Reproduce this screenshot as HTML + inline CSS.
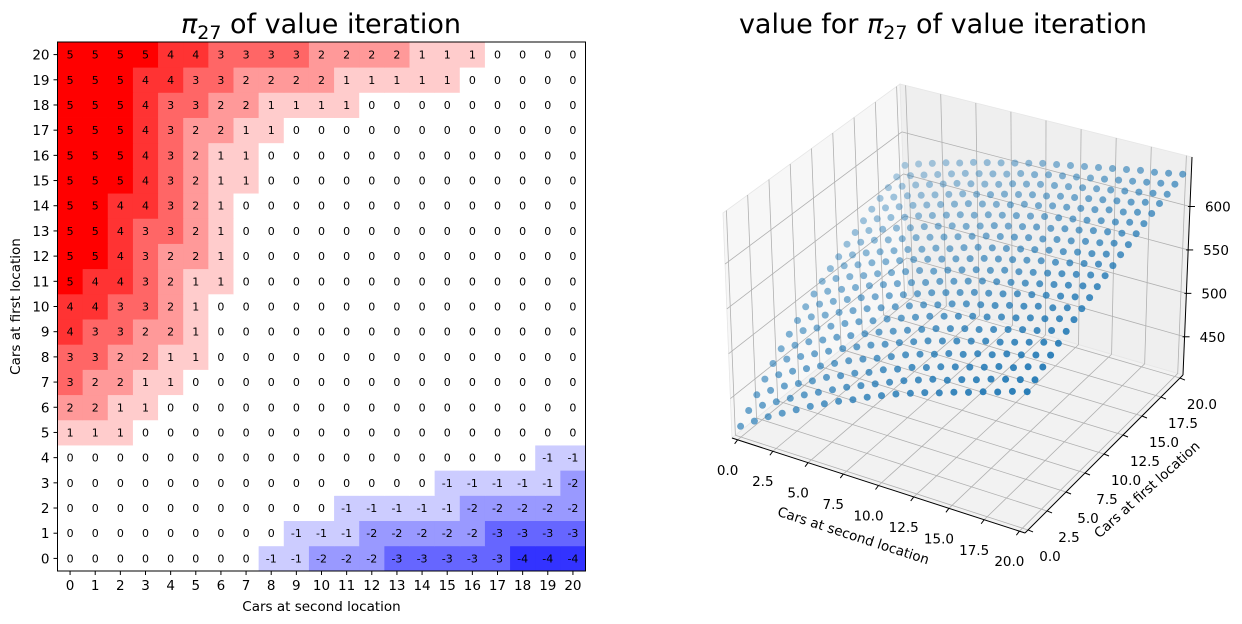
<!DOCTYPE html>
<html><head><meta charset="utf-8"><style>
body{margin:0;background:#fff;}
svg{display:block;font-family:"DejaVu Sans","Liberation Sans",sans-serif;}
</style></head><body>
<svg id="fig" width="1242" height="624" viewBox="0 0 1242 624" xmlns="http://www.w3.org/2000/svg">
<rect width="1242" height="624" fill="#fff"/>
<g id="heat"></g>
<g id="surf"></g>
</svg>
<script>
// Policy heatmap data: rows indexed by cars at first location (0..20), columns by cars at second location (0..20)
const policyRows = [
[0,0,0,0,0,0,0,0,-1,-1,-2,-2,-2,-3,-3,-3,-3,-3,-4,-4,-4],
[0,0,0,0,0,0,0,0,0,-1,-1,-1,-2,-2,-2,-2,-2,-3,-3,-3,-3],
[0,0,0,0,0,0,0,0,0,0,0,-1,-1,-1,-1,-1,-2,-2,-2,-2,-2],
[0,0,0,0,0,0,0,0,0,0,0,0,0,0,0,-1,-1,-1,-1,-1,-2],
[0,0,0,0,0,0,0,0,0,0,0,0,0,0,0,0,0,0,0,-1,-1],
[1,1,1,0,0,0,0,0,0,0,0,0,0,0,0,0,0,0,0,0,0],
[2,2,1,1,0,0,0,0,0,0,0,0,0,0,0,0,0,0,0,0,0],
[3,2,2,1,1,0,0,0,0,0,0,0,0,0,0,0,0,0,0,0,0],
[3,3,2,2,1,1,0,0,0,0,0,0,0,0,0,0,0,0,0,0,0],
[4,3,3,2,2,1,0,0,0,0,0,0,0,0,0,0,0,0,0,0,0],
[4,4,3,3,2,1,0,0,0,0,0,0,0,0,0,0,0,0,0,0,0],
[5,4,4,3,2,1,1,0,0,0,0,0,0,0,0,0,0,0,0,0,0],
[5,5,4,3,2,2,1,0,0,0,0,0,0,0,0,0,0,0,0,0,0],
[5,5,4,3,3,2,1,0,0,0,0,0,0,0,0,0,0,0,0,0,0],
[5,5,4,4,3,2,1,0,0,0,0,0,0,0,0,0,0,0,0,0,0],
[5,5,5,4,3,2,1,1,0,0,0,0,0,0,0,0,0,0,0,0,0],
[5,5,5,4,3,2,1,1,0,0,0,0,0,0,0,0,0,0,0,0,0],
[5,5,5,4,3,2,2,1,1,0,0,0,0,0,0,0,0,0,0,0,0],
[5,5,5,4,3,3,2,2,1,1,1,1,0,0,0,0,0,0,0,0,0],
[5,5,5,4,4,3,3,2,2,2,2,1,1,1,1,1,0,0,0,0,0],
[5,5,5,5,4,4,3,3,3,3,2,2,2,2,1,1,1,0,0,0,0]
];
const heatXTicks = [0,1,2,3,4,5,6,7,8,9,10,11,12,13,14,15,16,17,18,19,20];
const heatYTicks = [0,1,2,3,4,5,6,7,8,9,10,11,12,13,14,15,16,17,18,19,20];

// Value function data: rows = first location 0..20, cols = second location 0..20
const valueRows = [
[418,429,439,448,457,466,474,482,489,497,504,511,517,523,528,534,539,545,550,556,561],
[428,439,448,457,466,474,482,490,497,504,511,518,524,530,534,540,545,551,556,561,566],
[438,448,458,466,474,483,490,498,504,512,518,525,530,536,541,546,551,557,561,567,572],
[448,458,467,475,483,491,499,506,512,519,526,532,537,543,547,553,557,563,567,572,577],
[458,468,476,484,492,500,507,514,520,527,533,539,544,549,554,559,563,568,573,578,582],
[467,476,485,492,500,507,514,521,527,533,539,545,550,555,559,564,569,574,578,583,587],
[476,485,493,500,508,515,521,528,534,540,546,551,556,561,565,570,574,579,583,588,592],
[484,493,500,508,515,522,528,534,540,546,551,557,562,566,570,575,579,584,587,592,596],
[492,500,508,515,522,528,534,540,546,552,557,562,567,571,575,580,584,588,592,596,600],
[499,507,514,521,528,534,540,546,551,557,562,567,572,576,580,584,588,592,596,600,604],
[506,514,521,527,534,540,546,552,556,562,567,572,576,581,584,588,592,596,600,604,608],
[513,521,527,534,540,546,552,557,562,567,572,577,581,585,589,593,596,600,604,608,611],
[519,526,533,539,545,551,556,562,566,572,577,581,585,589,593,597,600,604,607,611,615],
[526,533,540,545,551,557,562,567,572,577,582,586,590,594,597,601,604,608,611,615,618],
[532,539,545,551,556,562,567,572,576,581,586,590,594,598,601,605,608,612,615,618,622],
[538,545,551,556,562,567,572,577,581,586,590,594,598,602,605,608,611,615,618,622,625],
[544,550,556,562,567,572,577,582,586,590,594,599,602,606,609,612,615,619,621,625,628],
[549,555,561,566,571,576,581,585,589,594,598,602,605,609,612,615,618,621,624,628,631],
[554,560,566,571,576,581,585,589,593,598,602,606,609,612,615,618,621,624,627,630,633],
[559,565,570,575,580,585,589,593,597,602,605,609,612,615,618,621,624,627,630,633,636],
[565,571,576,581,585,590,594,598,602,606,610,613,616,619,622,625,628,631,633,636,639]
];
const xyTicks = [0,2.5,5,7.5,10,12.5,15,17.5,20];
const xyTickLabels = ["0.0","2.5","5.0","7.5","10.0","12.5","15.0","17.5","20.0"];
const zTicks = [450,500,550,600];
const zTickLabels = ["450","500","550","600"];

const NS = "http://www.w3.org/2000/svg";
function mk(tag, attrs, parent, text){
  const e = document.createElementNS(NS, tag);
  for (const k in attrs) e.setAttribute(k, attrs[k]);
  if (text !== undefined) e.textContent = text;
  parent.appendChild(e);
  return e;
}
const FS = 13.5;

// ---------- Heatmap ----------
(function(){
  const g = document.getElementById('heat');
  const L = 57.5, R = 585.5, T = 42, B = 571;
  const n = 21, cw = (R - L) / n, ch = (B - T) / n;
  const xS = c => L + c * cw;
  const yS = r => B - (r + 1) * ch;
  function color(v){
    const t = Math.min(1, Math.abs(v) / 5);
    const c = Math.round(255 * (1 - t));
    return v >= 0 ? `rgb(255,${c},${c})` : `rgb(${c},${c},255)`;
  }
  policyRows.forEach((row, r) => {
    row.forEach((v, c) => {
      const cell = mk('rect', {x: xS(c), y: yS(r), width: cw + 0.4, height: ch + 0.4, fill: color(v)}, g);
      
      
      const tx = mk('text', {x: xS(c) + cw / 2, y: yS(r) + ch / 2 + 4, 'font-size': 11, 'text-anchor': 'middle', fill: '#000'}, g, String(v));
      
      
    });
  });
  const frame = mk('rect', {x: L, y: T, width: R - L, height: B - T, fill: 'none', stroke: '#000', 'stroke-width': 1}, g);
  
  
  heatXTicks.forEach(t => {
    const x = xS(t) + cw / 2;
    mk('line', {x1: x, x2: x, y1: B, y2: B + 4, stroke: '#000'}, g);
    const lb = mk('text', {x: x, y: B + 19, 'font-size': FS, 'text-anchor': 'middle'}, g, String(t));
    
    
  });
  heatYTicks.forEach(t => {
    const y = yS(t) + ch / 2;
    mk('line', {x1: L - 4, x2: L, y1: y, y2: y, stroke: '#000'}, g);
    const lb = mk('text', {x: L - 8, y: y + 5, 'font-size': FS, 'text-anchor': 'end'}, g, String(t));
    
    
  });
  const xt = mk('text', {x: (L + R) / 2, y: 611, 'font-size': FS, 'text-anchor': 'middle'}, g, 'Cars at second location');
  
  
  const yt = mk('text', {x: 0, y: 0, 'font-size': FS, 'text-anchor': 'middle', transform: `translate(20,${(T + B) / 2}) rotate(-90)`}, g, 'Cars at first location');
  
  
  const tt = mk('text', {x: 321, y: 33, 'font-size': 27, 'text-anchor': 'middle'}, g);
  
  
  mk('tspan', {'font-style': 'italic'}, tt, 'π');
  mk('tspan', {'font-size': 19, dy: 6}, tt, '27');
  mk('tspan', {dy: -6}, tt, ' of value iteration');
})();

// ---------- 3D scatter ----------
(function(){
  const g = document.getElementById('surf');
  const lo = -0.4, hi = 20.4, zb = 406, zt = 657;
  const P00 = [732,438], P10 = [1025,533], P11 = [1183,375], P01 = [908,295];
  const Q00 = [723,213], Q10 = [1033,312], Q11 = [1192,157], Q01 = [900,84];
  function bil(A, B, C, D, u, v){
    return [
      A[0]*(1-u)*(1-v) + B[0]*u*(1-v) + C[0]*u*v + D[0]*(1-u)*v,
      A[1]*(1-u)*(1-v) + B[1]*u*(1-v) + C[1]*u*v + D[1]*(1-u)*v
    ];
  }
  function proj(x, y, z){
    const u = (x - lo) / (hi - lo), v = (y - lo) / (hi - lo), w = (z - zb) / (zt - zb);
    const F = bil(P00, P10, P11, P01, u, v), Tp = bil(Q00, Q10, Q11, Q01, u, v);
    return [F[0] + (Tp[0] - F[0]) * w, F[1] + (Tp[1] - F[1]) * w];
  }
  const poly = (pts, fill, name) => {
    const p = mk('polygon', {points: pts.map(q => q.join(',')).join(' '), fill: fill, stroke: '#e6e6e6', 'stroke-width': 0.8}, g);
    
    
  };
  poly([P00, P01, Q01, Q00], '#f7f7f7', 'left-pane');
  poly([P01, P11, Q11, Q01], '#efefef', 'back-pane');
  poly([P00, P10, P11, P01], '#f2f2f2', 'floor-pane');
  const gl = (a, b) => {
    const l = mk('line', {x1: a[0], y1: a[1], x2: b[0], y2: b[1], stroke: '#b0b0b0', 'stroke-width': 0.8}, g);
    
    
  };
  xyTicks.forEach(t => {
    gl(proj(t, lo, zb), proj(t, hi, zb));
    gl(proj(t, hi, zb), proj(t, hi, zt));
    gl(proj(lo, t, zb), proj(hi, t, zb));
    gl(proj(lo, t, zb), proj(lo, t, zt));
  });
  zTicks.forEach(t => {
    gl(proj(lo, lo, t), proj(lo, hi, t));
    gl(proj(lo, hi, t), proj(hi, hi, t));
  });
  const pts = [];
  valueRows.forEach((row, yi) => row.forEach((val, xi) => pts.push({x: xi, y: yi, z: val})));
  pts.forEach(p => { p.depth = p.x / 20 + (20 - p.y) / 20; });
  pts.sort((a, b) => a.depth - b.depth);
  pts.forEach(p => {
    const s = proj(p.x, p.y, p.z);
    const a = 0.35 + 0.6 * (p.depth / 2);
    const c = mk('circle', {cx: s[0].toFixed(1), cy: s[1].toFixed(1), r: 3.5, fill: '#1f77b4', 'fill-opacity': a.toFixed(2)}, g);
    
    
  });
  const ax = (a, b, name) => {
    const l = mk('line', {x1: a[0], y1: a[1], x2: b[0], y2: b[1], stroke: '#000', 'stroke-width': 1}, g);
    
    
  };
  ax(P00, P10, 'x-axis-line');
  ax(P10, P11, 'y-axis-line');
  ax(P11, Q11, 'z-axis-line');
  xyTicks.forEach((t, i) => {
    const a = proj(t, lo, zb);
    mk('line', {x1: a[0], y1: a[1], x2: a[0] - 3, y2: a[1] + 4, stroke: '#000'}, g);
    const lx = mk('text', {x: a[0] - 10, y: a[1] + 35, 'font-size': FS, 'text-anchor': 'middle'}, g, xyTickLabels[i]);
    
    
    const b = proj(hi, t, zb);
    mk('line', {x1: b[0], y1: b[1], x2: b[0] + 5, y2: b[1] + 2, stroke: '#000'}, g);
    const ly = mk('text', {x: b[0] + 22, y: b[1] + 31, 'font-size': FS, 'text-anchor': 'middle'}, g, xyTickLabels[i]);
    
    
  });
  zTicks.forEach((t, i) => {
    const a = proj(hi, hi, t);
    mk('line', {x1: a[0] - 2, y1: a[1], x2: a[0] + 5, y2: a[1], stroke: '#000'}, g);
    const lz = mk('text', {x: a[0] + 15, y: a[1] + 5, 'font-size': FS}, g, zTickLabels[i]);
    
    
  });
  const xl = mk('text', {x: 0, y: 0, 'font-size': FS, 'text-anchor': 'middle', transform: 'translate(852,540) rotate(18)'}, g, 'Cars at second location');
  
  
  const yl = mk('text', {x: 0, y: 0, 'font-size': FS, 'text-anchor': 'middle', transform: 'translate(1150,493) rotate(-42)'}, g, 'Cars at first location');
  
  
  const tt = mk('text', {x: 943, y: 33, 'font-size': 27, 'text-anchor': 'middle'}, g);
  
  
  mk('tspan', {}, tt, 'value for ');
  mk('tspan', {'font-style': 'italic'}, tt, 'π');
  mk('tspan', {'font-size': 19, dy: 6}, tt, '27');
  mk('tspan', {dy: -6}, tt, ' of value iteration');
})();
</script>
</body></html>
